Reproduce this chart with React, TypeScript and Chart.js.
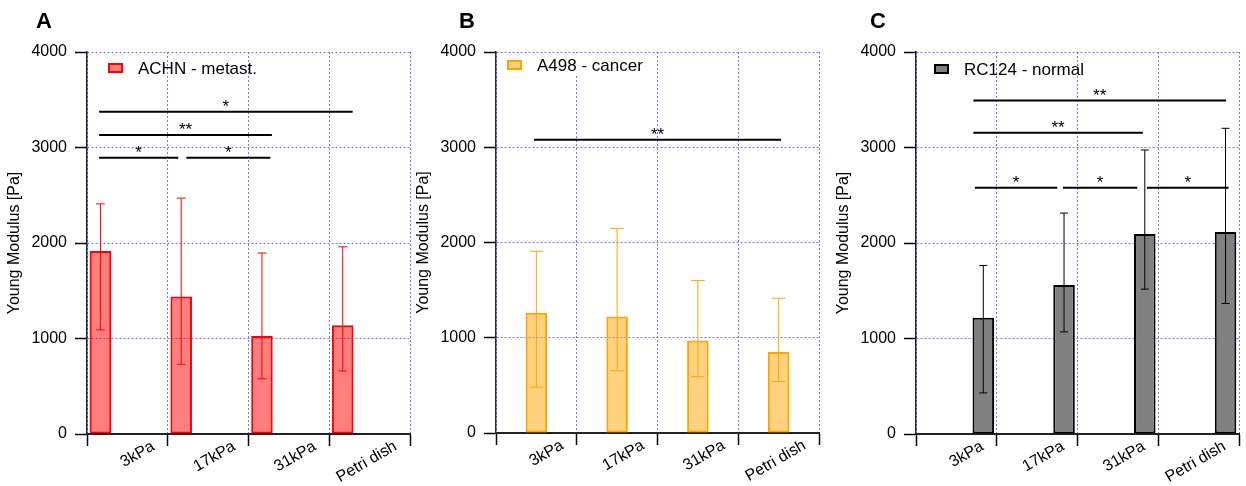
import React, { useEffect, useRef } from 'react';
import { Chart, registerables } from 'chart.js';

Chart.register(...registerables);
Chart.defaults.font.family = '"Liberation Sans", Arial, sans-serif';

// ---------- data ----------
const categories = ['3kPa', '17kPa', '31kPa', 'Petri dish'];
const yTicks = [0, 1000, 2000, 3000, 4000];
const yTitle = 'Young Modulus [Pa]';

const seriesLabels = ['ACHN - metast.', 'A498 - cancer', 'RC124 - normal'];
const panelLetters = ['A', 'B', 'C'];

const achnMean = [1915, 1440, 1025, 1140];
const achnLow = [1090, 730, 578, 660];
const achnHigh = [2410, 2470, 1895, 1960];

const a498Mean = [1262, 1222, 972, 850];
const a498Low = [480, 654, 591, 542];
const a498High = [1908, 2148, 1600, 1415];

const rc124Mean = [1218, 1559, 2095, 2115];
const rc124Low = [430, 1069, 1517, 1367];
const rc124High = [1765, 2313, 2974, 3201];

// significance brackets: category-index span, value level, marker
const achnSigFrom = [-0.35, -0.35, -0.35, 0.73];
const achnSigTo = [2.79, 1.79, 0.63, 1.77];
const achnSigY = [3375, 3132, 2892, 2892];
const achnSigLabel = ['*', '**', '*', '*'];

const a498SigFrom = [-0.03];
const a498SigTo = [3.03];
const a498SigY = [3079];
const a498SigLabel = ['**'];

const rc124SigFrom = [0.21, 0.21, 0.23, 1.32, 2.36];
const rc124SigTo = [3.34, 2.31, 1.25, 2.24, 3.37];
const rc124SigY = [3491, 3155, 2579, 2579, 2579];
const rc124SigLabel = ['**', '**', '*', '*', '*'];

const means = [achnMean, a498Mean, rc124Mean];
const lows = [achnLow, a498Low, rc124Low];
const highs = [achnHigh, a498High, rc124High];
const sigs = [
  { from: achnSigFrom, to: achnSigTo, y: achnSigY, label: achnSigLabel },
  { from: a498SigFrom, to: a498SigTo, y: a498SigY, label: a498SigLabel },
  { from: rc124SigFrom, to: rc124SigTo, y: rc124SigY, label: rc124SigLabel },
];

// ---------- styles ----------
const fills = ['rgba(255,0,0,0.5)', 'rgba(255,165,0,0.5)', '#808080'];
const borders = ['#ff0000', '#ffa500', '#000000'];
const GRID = 'rgba(70,70,255,0.75)';
const FONT = '"Liberation Sans", Arial, sans-serif';

const panelStyle = [
  { left: 0, top: 0, letterX: 36, boxX: 21, legendCy: 16, legendBg: false, cap: 4.4, axisColor: '#1c1c48' },
  { left: 409, top: 1, letterX: 50, boxX: 11, legendCy: 13, legendBg: true, cap: 6.8, axisColor: '#26265e' },
  { left: 829, top: 0, letterX: 41, boxX: 18, legendCy: 17, legendBg: false, cap: 4.0, axisColor: '#1c1c48' },
];

function makePlugin(p: number) {
  const st = panelStyle[p];
  return {
    id: 'panelExtras' + p,
    afterDatasetsDraw(chart: any) {
      const ctx = chart.ctx;
      const xs = chart.scales.x;
      const ys = chart.scales.y;
      const area = chart.chartArea;
      ctx.save();
      // error bars
      const meta = chart.getDatasetMeta(p);
      meta.data.forEach((el: any, i: number) => {
        const x = el.x;
        const yl = ys.getPixelForValue(lows[p][i]);
        const yh = ys.getPixelForValue(highs[p][i]);
        ctx.strokeStyle = borders[p];
        ctx.lineWidth = 1;
        ctx.setLineDash([]);
        ctx.beginPath();
        ctx.moveTo(x, yl);
        ctx.lineTo(x, yh);
        ctx.moveTo(x - st.cap, yl);
        ctx.lineTo(x + st.cap, yl);
        ctx.moveTo(x - st.cap, yh);
        ctx.lineTo(x + st.cap, yh);
        ctx.stroke();
      });
      // significance lines
      const s = sigs[p];
      ctx.strokeStyle = '#000';
      ctx.fillStyle = '#000';
      ctx.lineWidth = 2;
      ctx.font = '17px ' + FONT;
      ctx.textAlign = 'center';
      ctx.textBaseline = 'alphabetic';
      for (let k = 0; k < s.from.length; k++) {
        const x1 = xs.getPixelForValue(s.from[k]);
        const x2 = xs.getPixelForValue(s.to[k]);
        const y = ys.getPixelForValue(s.y[k]);
        ctx.beginPath();
        ctx.moveTo(x1, y);
        ctx.lineTo(x2, y);
        ctx.stroke();
        ctx.fillText(s.label[k], (x1 + x2) / 2, y);
      }
      // legend
      const bx = area.left + st.boxX;
      const cy = area.top + st.legendCy;
      if (st.legendBg) {
        ctx.fillStyle = '#ffffff';
        ctx.fillRect(area.left + 1, area.top + 1, 152, 21);
      }
      ctx.fillStyle = fills[p];
      ctx.fillRect(bx + 1, cy - 4, 13, 8);
      ctx.strokeStyle = borders[p];
      ctx.lineWidth = 2;
      ctx.strokeRect(bx + 1, cy - 4, 13, 8);
      ctx.fillStyle = '#000';
      ctx.textAlign = 'left';
      ctx.textBaseline = 'middle';
      ctx.font = '17px ' + FONT;
      ctx.fillText(seriesLabels[p], bx + 30, cy + 1);
      // panel letter
      ctx.font = 'bold 22px ' + FONT;
      ctx.textBaseline = 'alphabetic';
      ctx.fillText(panelLetters[p], st.letterX, 28 - st.top);
      ctx.restore();
    },
  };
}

function Panel({ p }: { p: number }) {
  const ref = useRef<HTMLCanvasElement>(null);
  useEffect(() => {
    const st = panelStyle[p];
    const datasets = [0, 1, 2].map((k) => ({
      label: seriesLabels[k],
      data: k === p ? means[k] : categories.map(() => null),
      backgroundColor: fills[k],
      borderColor: borders[k],
      borderWidth: 2,
      borderSkipped: false,
    }));
    const chart = new Chart(ref.current as HTMLCanvasElement, {
      type: 'bar',
      data: { labels: categories, datasets: datasets as any },
      options: {
        animation: false,
        responsive: false,
        maintainAspectRatio: false,
        layout: { padding: { left: 0, right: 5, top: 52 - st.top, bottom: 0 } },
        plugins: { legend: { display: false }, tooltip: { enabled: false } },
        datasets: { bar: { categoryPercentage: 1, barPercentage: 0.8 } },
        scales: {
          x: {
            grid: {
              offset: true,
              color: GRID,
              lineWidth: 1,
              tickColor: '#000',
              tickLength: 12,
              tickWidth: 1.5,
              tickBorderDash: [],
            },
            border: { color: '#222', width: 2, dash: [2, 2] },
            ticks: {
              autoSkip: false,
              minRotation: 30,
              maxRotation: 30,
              padding: -9,
              labelOffset: 26,
              color: '#000',
              font: { size: 16 },
            },
            afterFit: (s: any) => {
              s.height = 52 + st.top;
              s.paddingLeft = 0;
              s.paddingRight = 0;
            },
          },
          y: {
            min: 0,
            max: 4000,
            afterBuildTicks: (s: any) => {
              s.ticks = yTicks.map((v) => ({ value: v }));
            },
            grid: { color: GRID, lineWidth: 1, tickColor: '#000', tickLength: 12, tickWidth: 1.5, tickBorderDash: [] },
            border: { color: st.axisColor, width: 1.5, dash: [2, 2] },
            ticks: { padding: 8, color: '#000', font: { size: 16 }, callback: (v: any) => String(v) },
            title: {
              display: true,
              text: yTitle,
              color: '#000',
              font: { size: 16 },
              padding: { top: 5, bottom: 0 },
            },
            afterFit: (s: any) => {
              s.width = 87;
            },
          },
        },
      } as any,
      plugins: [makePlugin(p)],
    });
    return () => chart.destroy();
  }, [p]);
  const st = panelStyle[p];
  return (
    <div style={{ position: 'absolute', left: st.left, top: st.top, width: 415, height: 486 - st.top }}>
      <canvas ref={ref} width={415} height={486 - st.top} style={{ display: 'block', width: 415, height: 486 - st.top }} />
    </div>
  );
}

export default function App() {
  return (
    <div style={{ position: 'absolute', left: 0, top: 0, width: 1246, height: 486, background: '#fff' }}>
      <Panel p={0} />
      <Panel p={1} />
      <Panel p={2} />
    </div>
  );
}
